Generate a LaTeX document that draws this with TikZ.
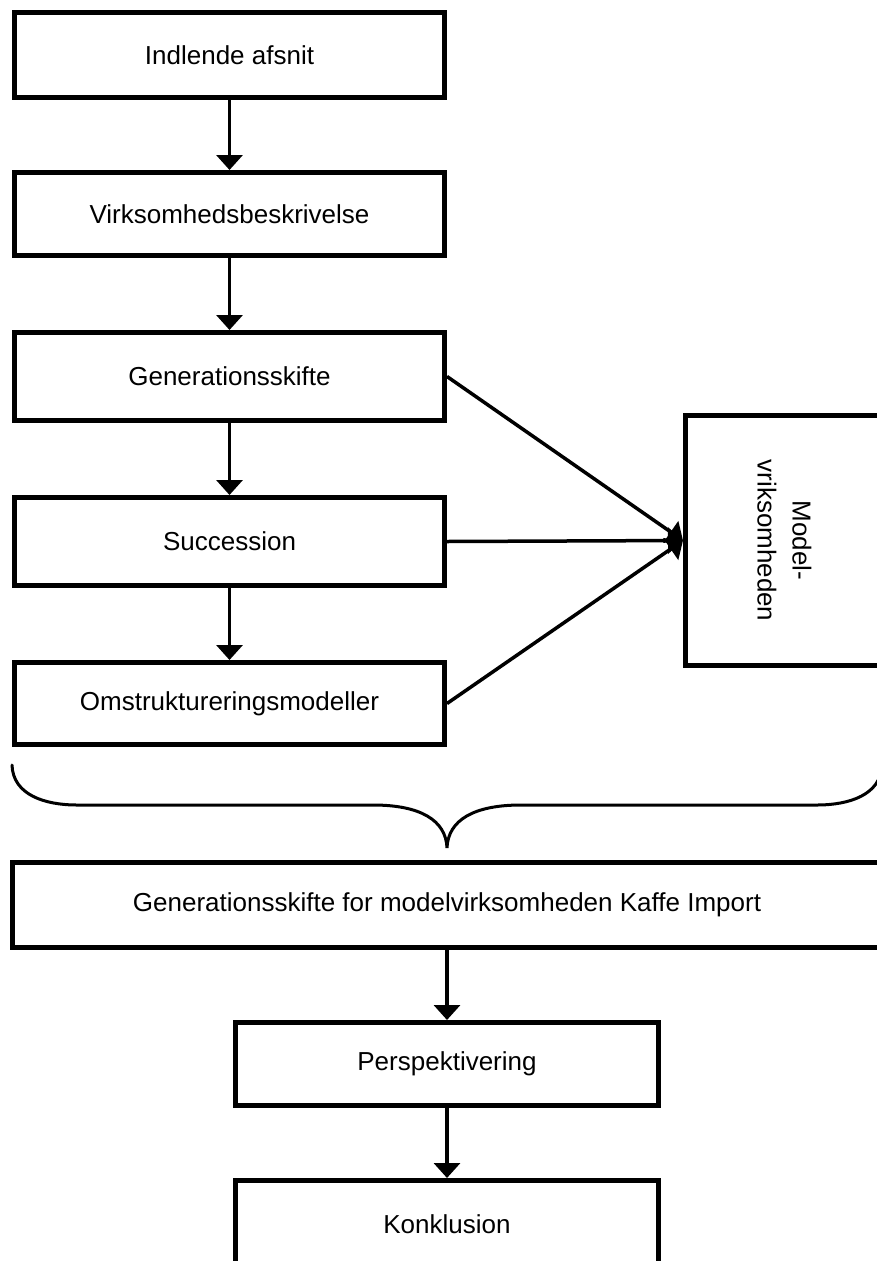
\documentclass[tikz,border=0pt]{standalone}
\usepackage{fontspec}
\usepackage{graphicx}
\setmainfont{Liberation Sans}
\usetikzlibrary{arrows.meta}
\begin{document}
\begin{tikzpicture}[x=1pt,y=-1pt,
  box/.style={draw, line width=5pt, rectangle, inner sep=0pt,
    font=\fontsize{26}{35}\selectfont, align=center},
  flow/.style={line width=3.5pt, -{Triangle[width=26pt,length=15pt]}},
  brace/.style={line width=3pt, line cap=round}
]
\useasboundingbox (0,0) rectangle (877,1261);
\clip (0,0) rectangle (877,1261);
\fill[white] (0,0) rectangle (877,1261);

% left column of chapters
\node[box, minimum width=430pt, minimum height=85pt] (intro) at (229.5,55) {Indlende afsnit};
\node[box, minimum width=430pt, minimum height=83pt] (desc) at (229.5,214) {Virksomhedsbeskrivelse};
\node[box, minimum width=430pt, minimum height=88pt] (gen) at (229.5,376.5) {Generationsskifte};
\node[box, minimum width=430pt, minimum height=88pt] (succ) at (229.5,541.5) {Succession};
\node[box, minimum width=430pt, minimum height=82pt] (omst) at (229.5,703.5) {Omstruktureringsmodeller};

% model company box with vertical text (runs past the right edge)
\node[box, minimum width=217pt, minimum height=250pt] (model) at (794,540.5)
  {\rotatebox{-90}{\begin{tabular}{@{}c@{}}Model-\\vriksomheden\end{tabular}}\hspace*{24pt}};

% lower part
\node[box, minimum width=869pt, minimum height=85pt] (case) at (447,905)
  {Generationsskifte for modelvirksomheden Kaffe Import};
\node[box, minimum width=423pt, minimum height=83pt] (persp) at (447,1064) {Perspektivering};
\node[box, minimum width=423pt, minimum height=87pt] (concl) at (447,1224) {Konklusion};

% connectors
\draw[flow] (intro.south) -- (desc.north);
\draw[flow] (desc.south) -- (gen.north);
\draw[flow] (gen.south) -- (succ.north);
\draw[flow] (succ.south) -- (omst.north);
\draw[flow] (gen.east) -- (model.west);
\draw[flow] (succ.east) -- (model.west);
\draw[flow] (omst.east) -- (model.west);
\draw[flow] (case.south) -- (persp.north);
\draw[flow] (persp.south) -- (concl.north);

% brace gathering the theory chapters
\draw[brace] (12,765) .. controls (13,795) and (45,805) .. (77,805) -- (373,805)
  .. controls (420,805) and (446,820) .. (447,848)
  .. controls (448,820) and (474,805) .. (521,805) -- (817,805)
  .. controls (849,805) and (881,795) .. (882,765);
\end{tikzpicture}
\end{document}
